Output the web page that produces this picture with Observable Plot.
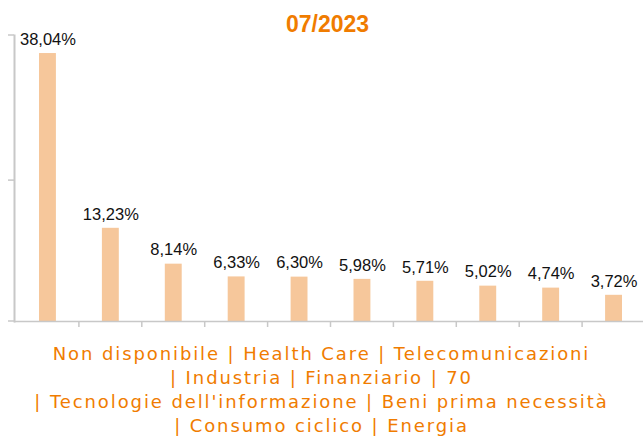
<!DOCTYPE html>
<html>
<head>
<meta charset="utf-8">
<script src="https://cdn.jsdelivr.net/npm/d3@7"></script>
<script src="https://cdn.jsdelivr.net/npm/@observablehq/plot@0.6"></script>
<style>
  html, body { margin: 0; padding: 0; background: #fff; }
  #wrap { position: relative; width: 643px; height: 436px; overflow: hidden; }
  #title { position: absolute; left: 12px; right: 0; top: 11px; text-align: center;
    font: bold 23px "Liberation Sans", Arial, sans-serif; color: #F07C00; line-height: 26px; }
  #cats { position: absolute; left: 0; top: 342px; width: 643px; text-align: center;
    font: 18px "DejaVu Sans", Verdana, sans-serif; color: #F07C00; letter-spacing: 1.9px; }
  #cats div { line-height: 24px; white-space: nowrap; }
  svg { display: block; }
</style>
</head>
<body>
<div id="wrap">
  <div id="chart"></div>
  <div id="title"></div>
  <div id="cats"></div>
</div>
<script>
const title = "07/2023";
const categories = ["Non disponibile", "Health Care", "Telecomunicazioni", "Industria", "Finanziario", "70",
  "Tecnologie dell'informazione", "Beni prima necessità", "Consumo ciclico", "Energia"];
const values = [38.04, 13.23, 8.14, 6.33, 6.30, 5.98, 5.71, 5.02, 4.74, 3.72];
const yMax = 40.6;
const yTicks = [0, 20, yMax];
const lineGroups = [3, 3, 2, 2]; // number of categories per text line

const data = categories.map((c, i) => ({category: c, value: values[i]}));
const fmt = v => v.toFixed(2).replace(".", ",") + "%";

const chart = Plot.plot({
  width: 643,
  height: 336,
  marginTop: 35,
  marginBottom: 15,
  marginLeft: 14,
  marginRight: 0,
  x: {domain: categories, range: [16, 645], padding: 0, round: false, axis: null},
  y: {domain: [0, yMax], axis: null},
  marks: [
    Plot.barY(data, {x: "category", y: "value", fill: "#F6C79B", insetLeft: 23, insetRight: 23}),
    Plot.ruleY([0], {stroke: "#c8c8c8", strokeWidth: 1.5}),
    Plot.frame({anchor: "left", stroke: "#c8c8c8", strokeWidth: 2}),
    Plot.text(data, {x: "category", y: "value", text: d => fmt(d.value), dy: -14, fill: "#111",
      fontSize: 16.5, fontFamily: "Liberation Sans, Arial, sans-serif"})
  ]
});
document.getElementById("chart").appendChild(chart);

// tick marks drawn with Plot's own scales
const svg = d3.select(chart);
const xs = chart.scale("x");
const ys = chart.scale("y");
const g = svg.append("g").attr("stroke", "#c8c8c8").attr("stroke-width", 1.5);
categories.forEach((c, i) => {
  if (i === 0) return;
  const x = xs.apply(c);
  g.append("line").attr("x1", x).attr("x2", x).attr("y1", ys.apply(0)).attr("y2", ys.apply(0) + 6);
});
yTicks.forEach(t => {
  g.append("line").attr("x1", 8).attr("x2", 14).attr("y1", ys.apply(t)).attr("y2", ys.apply(t));
});

document.getElementById("title").textContent = title;
const cats = document.getElementById("cats");
let k = 0;
lineGroups.forEach((n, li) => {
  const items = categories.slice(k, k + n);
  k += n;
  const div = document.createElement("div");
  div.textContent = (li === 0 ? "" : "| ") + items.join(" | ");
  cats.appendChild(div);
});
</script>
</body>
</html>
